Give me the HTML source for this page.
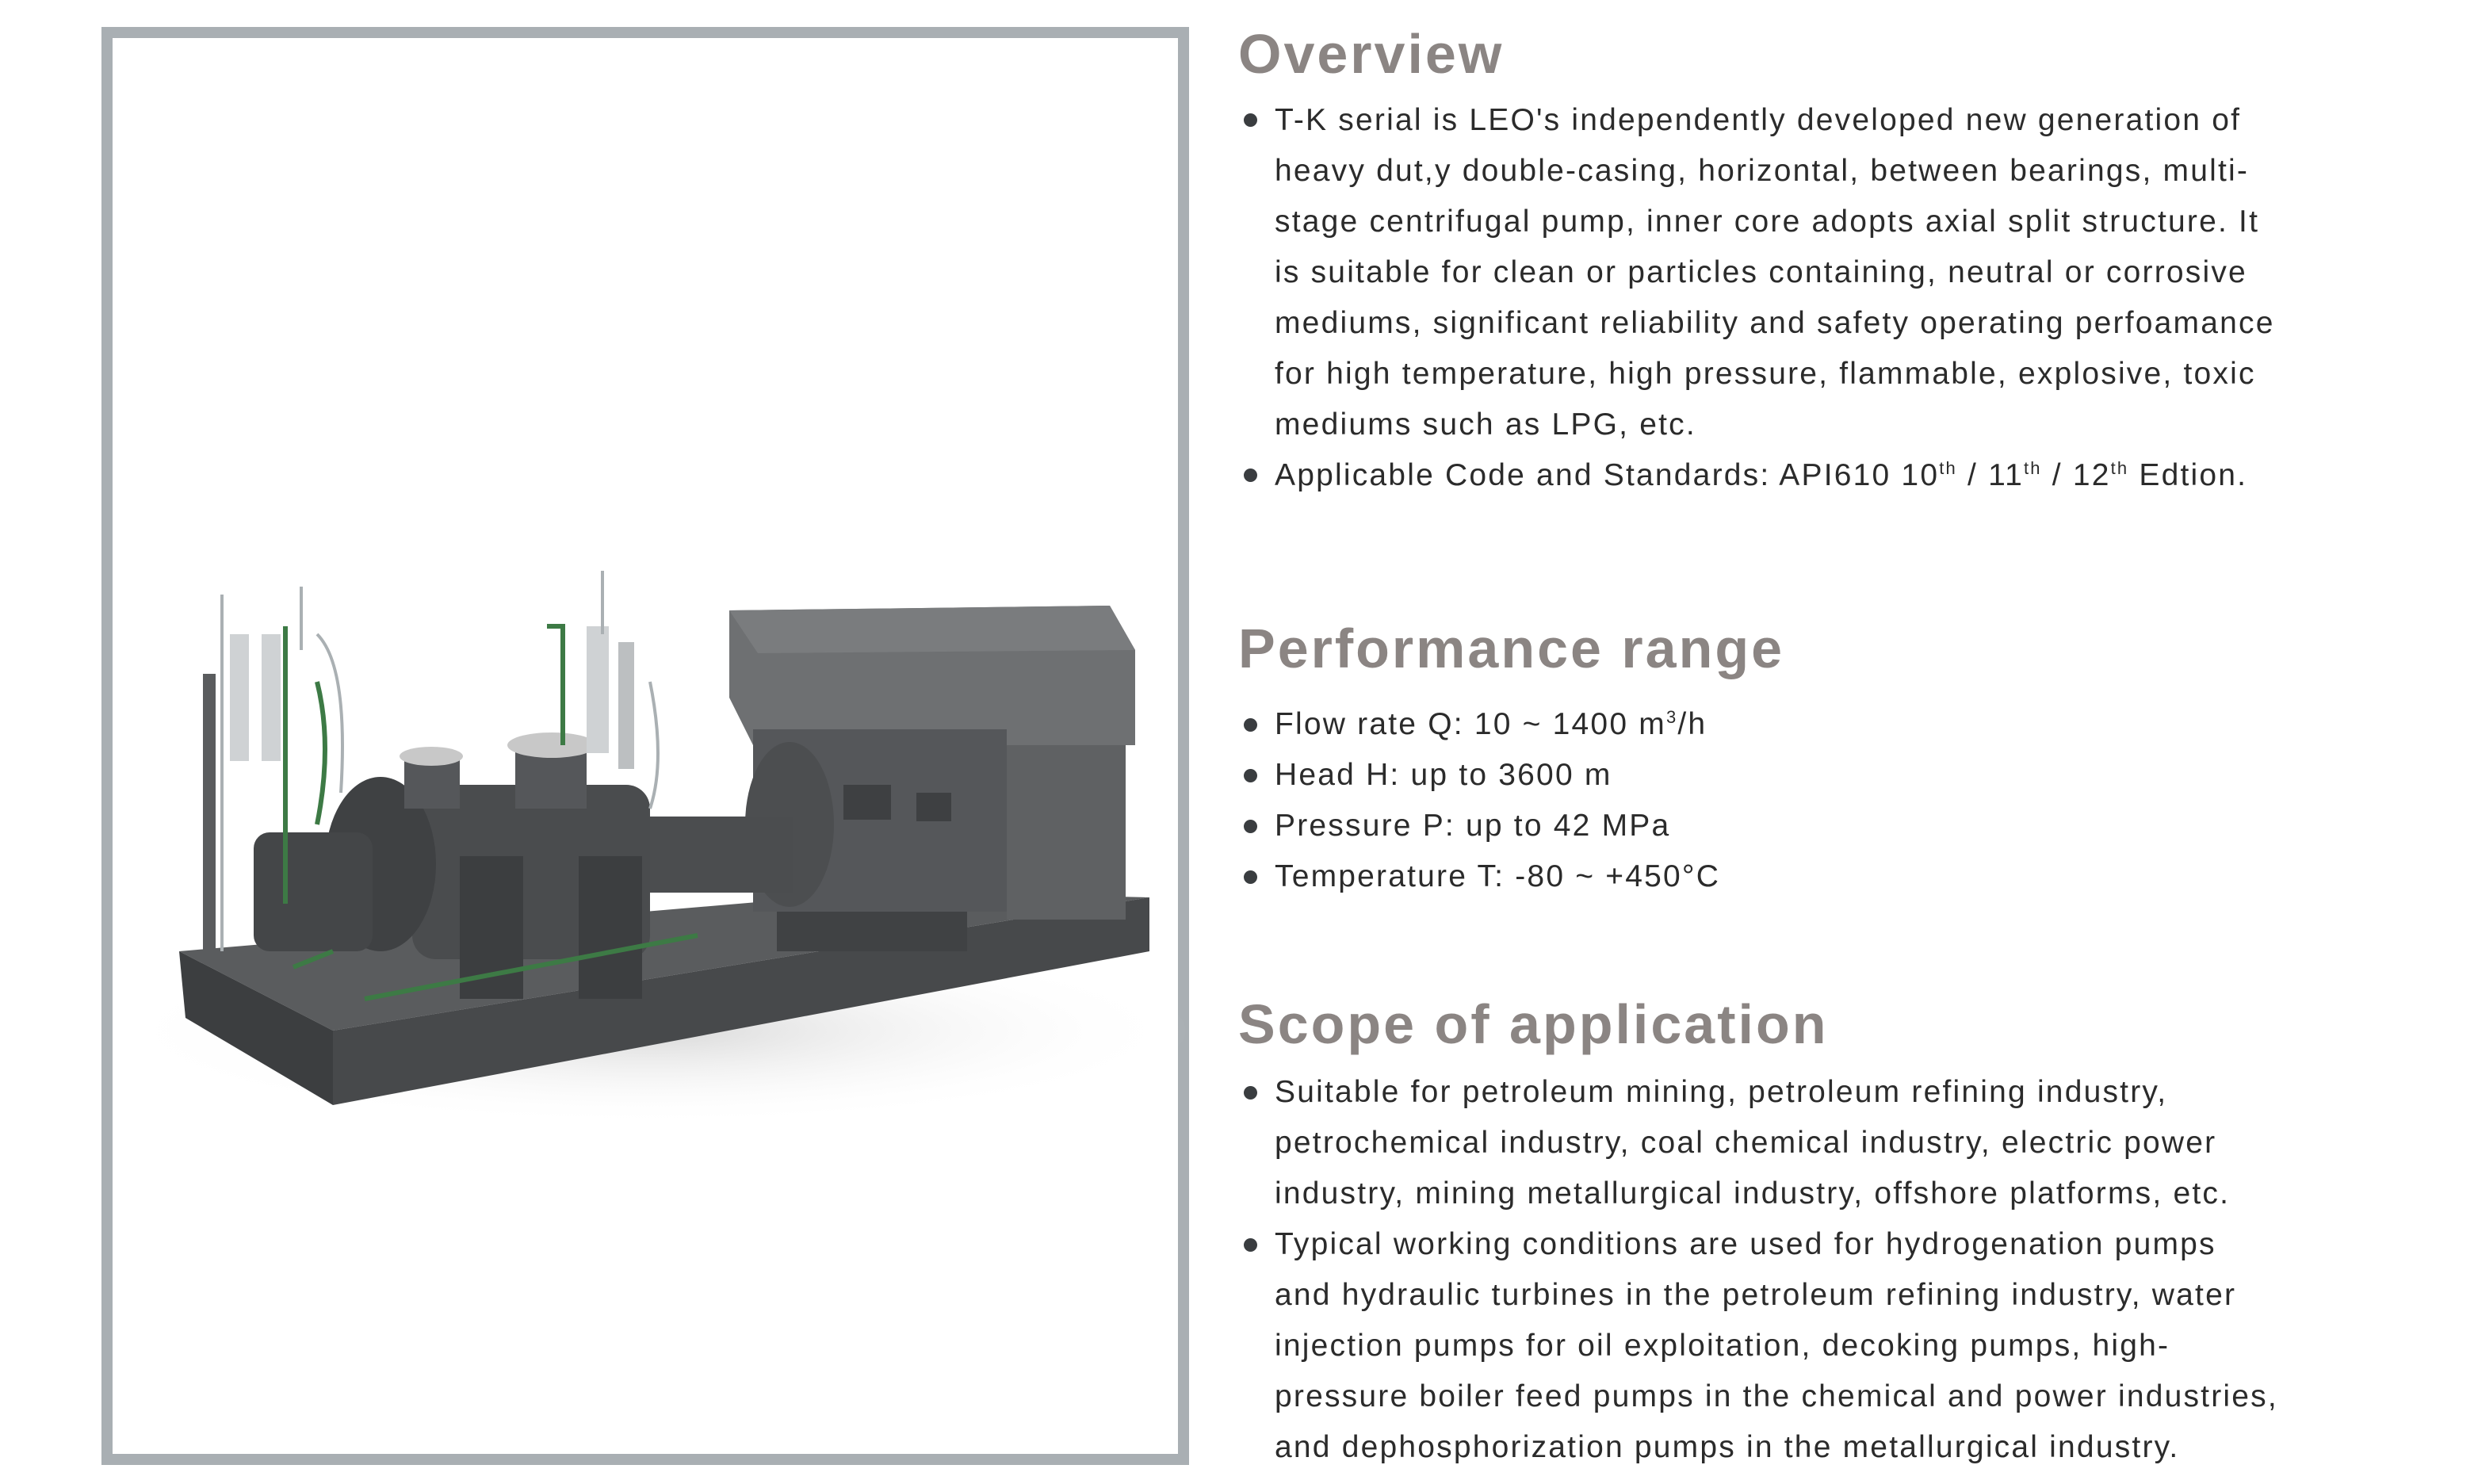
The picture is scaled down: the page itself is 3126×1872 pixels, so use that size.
<!DOCTYPE html>
<html><head><meta charset="utf-8"><style>
html,body{margin:0;padding:0;background:#fff;}
body{width:3126px;height:1872px;position:relative;overflow:hidden;font-family:"Liberation Sans",sans-serif;}
.frame{position:absolute;left:128px;top:34px;width:1344px;height:1786px;border:14px solid #a9afb3;}
.h{position:absolute;left:1562px;font-size:70px;line-height:80px;color:#8b8583;font-weight:bold;letter-spacing:3px;white-space:nowrap;}
.t{position:absolute;left:1608px;font-size:39px;line-height:64px;color:#2b2b2b;white-space:nowrap;letter-spacing:2.2px;}
.d{position:absolute;left:1569px;width:17px;height:17px;border-radius:50%;background:#3a3d40;}
sup{font-size:22px;line-height:0;}
</style></head><body>
<div class="frame"></div>
<svg style="position:absolute;left:0;top:0" width="3126" height="1872" viewBox="0 0 1563 936">
<defs>
<radialGradient id="sh" cx="0.5" cy="0.5" r="0.5"><stop offset="0" stop-color="#d8d8d8"/><stop offset="1" stop-color="#fff" stop-opacity="0"/></radialGradient>
</defs>
<ellipse cx="410" cy="650" rx="340" ry="60" fill="url(#sh)"/>
<polygon points="113,600 560,562 725,566 210,650" fill="#5a5c5e"/>
<polygon points="210,650 725,566 725,600 210,697" fill="#47494b"/>
<polygon points="113,600 210,650 210,697 117,642" fill="#3c3e40"/>
<polygon points="460,385 700,382 716,410 716,470 475,470 460,440" fill="#6e7072"/>
<polygon points="460,385 700,382 716,410 478,412" fill="#7a7c7e"/>
<rect x="475" y="460" width="160" height="115" fill="#55575a"/>
<rect x="635" y="470" width="75" height="110" fill="#5f6163"/>
<ellipse cx="498" cy="520" rx="28" ry="52" fill="#4c4e50"/>
<rect x="532" y="495" width="30" height="22" fill="#3e4042"/>
<rect x="578" y="500" width="22" height="18" fill="#3e4042"/>
<rect x="490" y="575" width="120" height="25" fill="#404244"/>
<rect x="400" y="515" width="100" height="48" fill="#4b4d4f"/>
<rect x="260" y="495" width="150" height="110" rx="15" fill="#4a4c4e"/>
<ellipse cx="240" cy="545" rx="35" ry="55" fill="#3f4143"/>
<rect x="160" y="525" width="75" height="75" rx="10" fill="#444648"/>
<rect x="290" y="540" width="40" height="90" fill="#3c3e40"/>
<rect x="365" y="540" width="40" height="90" fill="#3c3e40"/>
<rect x="255" y="475" width="35" height="35" fill="#55575a"/>
<ellipse cx="272" cy="477" rx="20" ry="6" fill="#c8c8c8"/>
<rect x="325" y="470" width="45" height="40" fill="#55575a"/>
<ellipse cx="348" cy="470" rx="28" ry="8" fill="#c8c8c8"/>
<rect x="128" y="425" width="8" height="175" fill="#5a5c5e"/>
<rect x="145" y="400" width="12" height="80" fill="#cfd2d4"/>
<rect x="165" y="400" width="12" height="80" fill="#cfd2d4"/>
<rect x="370" y="395" width="14" height="80" fill="#cfd2d4"/>
<rect x="390" y="405" width="10" height="80" fill="#bcbfc1"/>
<g fill="none" stroke="#3d7a45" stroke-width="3">
<path d="M180,395 V570 M200,430 Q210,470 200,520 M345,395 H355 V470 M185,610 L210,600 M230,630 L440,590"/>
</g>
<g fill="none" stroke="#aab0b3" stroke-width="2">
<path d="M140,375 V600 M190,370 V410 M200,400 Q220,420 215,500 M380,360 V400 M410,430 Q420,480 410,510"/>
</g>
</svg>
<div class="h" style="top:28px">Overview</div>
<div class="d" style="top:143px"></div>
<div class="d" style="top:591px"></div>
<div class="t" style="top:120px">T-K serial is LEO's independently developed new generation of<br>heavy dut,y double-casing, horizontal, between bearings, multi-<br>stage centrifugal pump, inner core adopts axial split structure. It<br>is suitable for clean or particles containing, neutral or corrosive<br>mediums, significant reliability and safety operating perfoamance<br>for high temperature, high pressure, flammable, explosive, toxic<br>mediums such as LPG, etc.<br>Applicable Code and Standards: API610 10<sup>th</sup> / 11<sup>th</sup> / 12<sup>th</sup> Edtion.</div>
<div class="h" style="top:778px">Performance range</div>
<div class="d" style="top:906px"></div><div class="d" style="top:970px"></div><div class="d" style="top:1034px"></div><div class="d" style="top:1098px"></div>
<div class="t" style="top:882px">Flow rate Q: 10 ~ 1400 m<sup>3</sup>/h<br>Head H: up to 3600 m<br>Pressure P: up to 42 MPa<br>Temperature T: -80 ~ +450°C</div>
<div class="h" style="top:1252px">Scope of application</div>
<div class="d" style="top:1370px"></div><div class="d" style="top:1562px"></div>
<div class="t" style="top:1346px">Suitable for petroleum mining, petroleum refining industry,<br>petrochemical industry, coal chemical industry, electric power<br>industry, mining metallurgical industry, offshore platforms, etc.<br>Typical working conditions are used for hydrogenation pumps<br>and hydraulic turbines in the petroleum refining industry, water<br>injection pumps for oil exploitation, decoking pumps, high-<br>pressure boiler feed pumps in the chemical and power industries,<br>and dephosphorization pumps in the metallurgical industry.</div>
</body></html>
